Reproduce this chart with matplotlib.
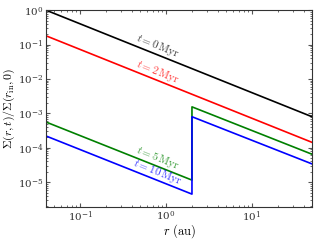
import numpy as np
import matplotlib
matplotlib.use('Agg')
import matplotlib.pyplot as plt

plt.rcParams['mathtext.fontset'] = 'cm'
plt.rcParams['font.family'] = 'serif'
plt.rcParams['font.serif'] = ['DejaVu Serif']

# data: breakpoints of the surface density profiles (straight on log-log)
r_full = [0.04, 50]
r_gap = [0.04, 2.0, 2.0, 50]

sig_0 = [1.0, 8.0e-4]
sig_2 = [0.18, 1.44e-4]
sig_5 = [5.6e-4, 1.15e-5, 1.55e-3, 6.5e-5]
sig_10 = [2.2e-4, 4.5e-6, 8.0e-4, 3.4e-5]

series = [
    (r_full, sig_0, 'black', '0'),
    (r_full, sig_2, 'red', '2'),
    (r_gap, sig_5, 'green', '5'),
    (r_gap, sig_10, 'blue', '10'),
]

fig = plt.figure(figsize=(3.2, 2.4), dpi=100)
ax = fig.add_axes([0.144, 0.1375, 0.831, 0.82])

r_lab = 0.74
for r, s, c, t in series:
    ax.plot(r, s, color=c, lw=1.2)
    # label sits on the inner segment
    y_lab = 10 ** np.interp(np.log10(r_lab), np.log10(r[:2]), np.log10(s[:2]))
    ax.text(r_lab, y_lab * 1.05, r'$t = %s\,\mathrm{Myr}$' % t, color=c, alpha=0.75,
            fontsize=8, rotation=-22, rotation_mode='anchor', ha='center', va='bottom')

ax.set_xscale('log')
ax.set_yscale('log')
ax.set_xlim(0.04, 50)
ax.set_ylim(1.9e-6, 1.0)

ax.tick_params(which='both', direction='in', top=True, right=True, labelsize=7.5,
               labelcolor='#333333', color='#555555')
ax.tick_params(which='major', length=3, pad=2)
ax.tick_params(which='minor', length=1.5)
for sp in ax.spines.values():
    sp.set_color('#333333')

ax.set_xlabel(r'$r\ \mathrm{(au)}$', fontsize=9)
ax.set_ylabel(r'$\Sigma(r,t)/\Sigma(r_{\rm in},0)$', fontsize=8.5)
ax.xaxis.set_label_coords(0.5, -0.075)
ax.yaxis.set_label_coords(-0.11, 0.5)

plt.savefig('out.png', dpi=100)
